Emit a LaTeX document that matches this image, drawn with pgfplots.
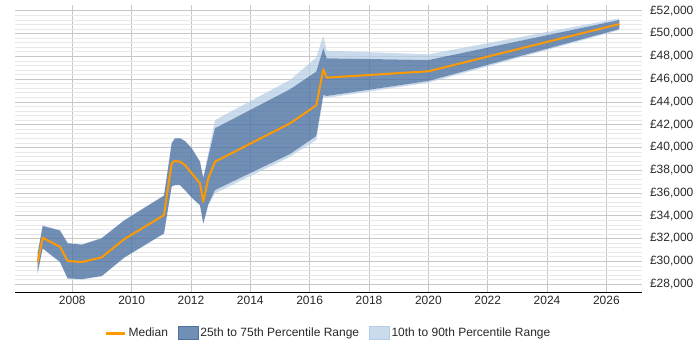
\documentclass[border=0pt]{standalone}
\usepackage{pgfplots}
\pgfplotsset{compat=1.18}
\usepackage{pgfplotstable}
\usepgfplotslibrary{fillbetween}
\usepackage{fontspec}
\setmainfont{Liberation Sans}

\definecolor{medianorange}{RGB}{255,153,0}
\definecolor{iqrblue}{RGB}{77,115,163}
\definecolor{decileblue}{RGB}{180,204,229}
\definecolor{tickgray}{RGB}{40,40,40}

% year, 10th, 25th, median, 75th, 90th percentile salary
\pgfplotstableread{
year     p10   p25   med   p75   p90
2006.834 28900 29000 29910 30700 30800
2007.002 31100 31140 32070 33100 33150
2007.585 29900 29960 31280 32700 32750
2007.845 28450 28500 30025 31580 31620
2008.337 28400 28440 29940 31460 31500
2008.991 28680 28710 30350 32020 32060
2009.743 30290 30320 31930 33570 33610
2011.091 32420 32450 34060 35760 35800
2011.350 36550 36580 38600 40360 40400
2011.461 36670 36700 38830 40800 40840
2011.630 36670 36700 38740 40800 40840
2011.798 36230 36260 38450 40550 40590
2012.024 35570 35600 37730 39920 39960
2012.304 34900 34940 36850 38740 38780
2012.415 33280 33330 35230 37300 37340
2012.584 34900 35000 37280 39180 39500
2012.810 35970 36260 38740 41680 42400
2015.338 39180 39420 42110 45100 45920
2016.224 40650 41000 43690 46650 47900
2016.460 44400 44600 46855 48700 49800
2016.574 44350 44510 46120 47820 48490
2020.000 45680 45830 46680 47670 48170
2026.440 50300 50390 50830 51180 51330
}\salarydata

\begin{document}
\begin{tikzpicture}[font=\fontsize{12bp}{14bp}\selectfont]
\begin{axis}[
  at={(0,0)}, anchor=south west,
  scale only axis,
  width=627bp, height=287.3bp,
  xmin=2006.07, xmax=2027.2,
  ymin=27280, ymax=52500,
  separate axis lines,
  axis x line*=bottom,
  axis y line*=right,
  x axis line style={draw=black, thick, -},
  y axis line style={draw=none},
  tick style={draw=none},
  xtick={2008,2010,...,2026},
  ytick={28000,30000,...,52000},
  scaled y ticks=false,
  minor y tick num=4,
  grid=both,
  major grid style={draw=black!22, line width=0.6bp},
  minor grid style={draw=black!9, line width=0.6bp},
  x tick label style={/pgf/number format/1000 sep={}, text=tickgray},
  y tick label style={/pgf/number format/1000 sep={,}, text=tickgray, anchor=west, xshift=4.5bp},
  /pgf/number format/assume math mode=true,
  yticklabel={£\pgfmathprintnumber[fixed, precision=0]{\tick}},
  legend columns=3,
  legend style={at={(0.5,-0.1417)}, anchor=center, draw=none, fill=none,
    /tikz/every even column/.append style={column sep=8bp},
    text=tickgray},
]
% percentile band edges
\addplot[name path=p10, draw=none, forget plot] table[x=year, y=p10] {\salarydata};
\addplot[name path=p25, draw=none, forget plot] table[x=year, y=p25] {\salarydata};
\addplot[name path=p75, draw=none, forget plot] table[x=year, y=p75] {\salarydata};
\addplot[name path=p90, draw=none, forget plot] table[x=year, y=p90] {\salarydata};
% 10th-90th range outside the interquartile band
\addplot[fill=decileblue, fill opacity=0.7, draw=none, forget plot] fill between[of=p90 and p75];
\addplot[fill=decileblue, fill opacity=0.7, draw=none, forget plot] fill between[of=p25 and p10];
% interquartile band
\addplot[fill=iqrblue, fill opacity=0.8, draw=none, forget plot] fill between[of=p75 and p25];
% median
\addplot[medianorange, line width=2bp, line join=round, forget plot] table[x=year, y=med] {\salarydata};

\addlegendimage{legend image code/.code={\draw[medianorange, line width=3bp] (0bp,0bp) -- (19bp,0bp);}}
\addlegendentry{Median}
\addlegendimage{legend image code/.code={\fill[iqrblue, fill opacity=0.8] (0bp,-6.5bp) rectangle (20bp,6.5bp);}}
\addlegendentry{25th to 75th Percentile Range}
\addlegendimage{legend image code/.code={\fill[decileblue, fill opacity=0.7] (0bp,-6.5bp) rectangle (20bp,6.5bp);}}
\addlegendentry{10th to 90th Percentile Range}
\end{axis}
\pgfresetboundingbox
\path[use as bounding box] (-15bp,-57.7bp) rectangle (685bp,292.3bp);
\end{tikzpicture}
\end{document}
